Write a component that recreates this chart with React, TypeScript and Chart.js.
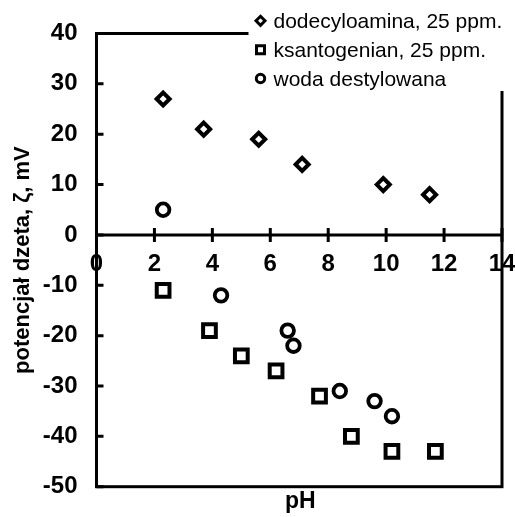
import React, { useEffect, useRef } from 'react';
import { Chart, registerables } from 'chart.js';

Chart.register(...registerables);

// ---- data ----
const seriesNames = ['dodecyloamina, 25 ppm.', 'ksantogenian, 25 ppm.', 'woda destylowana'];
const seriesStyles = ['rectRot', 'rect', 'circle'];

const dodecylPH = [2.3, 3.7, 5.6, 7.1, 9.9, 11.5];
const dodecylZeta = [27, 21, 19, 14, 10, 8];

const ksantPH = [2.3, 3.9, 5.0, 6.2, 7.7, 8.8, 10.2, 11.7];
const ksantZeta = [-11, -19, -24, -27, -32, -40, -43, -43];

const wodaPH = [2.3, 4.3, 6.6, 6.8, 8.4, 9.6, 10.2];
const wodaZeta = [5, -12, -19, -22, -31, -33, -36];

const xMin = 0;
const xMax = 14;
const xStep = 2;
const yMin = -50;
const yMax = 40;
const yStep = 10;

const xTitle = 'pH';
const yTitle = 'potencjał dzeta, ζ, mV';

const FONT = '"Liberation Sans", Arial, Helvetica, sans-serif';

const toPoints = (xs: number[], ys: number[]) => xs.map((x, i) => ({ x, y: ys[i] }));

function drawMarker(ctx: CanvasRenderingContext2D, style: string, cx: number, cy: number, r: number) {
  ctx.beginPath();
  if (style === 'rectRot') {
    ctx.moveTo(cx, cy - r);
    ctx.lineTo(cx + r, cy);
    ctx.lineTo(cx, cy + r);
    ctx.lineTo(cx - r, cy);
    ctx.closePath();
  } else if (style === 'rect') {
    ctx.rect(cx - r, cy - r, 2 * r, 2 * r);
  } else {
    ctx.arc(cx, cy, r, 0, Math.PI * 2);
  }
  ctx.fill();
  ctx.stroke();
}

const framePlugin = {
  id: 'frameAndTicks',
  beforeDatasetsDraw(chart: any) {
    const { ctx, chartArea: a, scales } = chart;
    const x = scales.x;
    const y = scales.y;
    ctx.save();
    ctx.strokeStyle = '#000';
    ctx.lineWidth = 3;
    ctx.lineCap = 'butt';
    ctx.strokeRect(a.left, a.top, a.right - a.left, a.bottom - a.top);
    const y0 = y.getPixelForValue(0);
    ctx.beginPath();
    ctx.moveTo(a.left - 1.5, y0);
    ctx.lineTo(a.right, y0);
    ctx.stroke();
    ctx.beginPath();
    x.ticks.forEach((t: any) => {
      const px = x.getPixelForValue(t.value);
      ctx.moveTo(px, y0 - 7);
      ctx.lineTo(px, y0 + 7);
    });
    y.ticks.forEach((t: any) => {
      const py = y.getPixelForValue(t.value);
      ctx.moveTo(a.left, py);
      ctx.lineTo(a.left + 7, py);
    });
    ctx.stroke();
    ctx.restore();
  },
  afterDraw(chart: any) {
    const { ctx, chartArea: a } = chart;
    ctx.save();
    // legend box
    ctx.fillStyle = '#fff';
    ctx.fillRect(248.5, 0, chart.width - 248.5, 91);
    const rows = [28.3, 57.3, 86];
    chart.data.datasets.forEach((ds: any, i: number) => {
      ctx.fillStyle = '#fff';
      ctx.strokeStyle = '#000';
      ctx.lineWidth = 3;
      const r = ds.pointStyle === 'rectRot' ? 4.5 : ds.pointStyle === 'rect' ? 4 : 4.2;
      drawMarker(ctx, ds.pointStyle, 260.5, rows[i] - 7.5, r);
      ctx.fillStyle = '#000';
      ctx.font = `21px ${FONT}`;
      ctx.textAlign = 'left';
      ctx.textBaseline = 'alphabetic';
      ctx.fillText(ds.label, 273.5, rows[i]);
    });
    // x title
    ctx.fillStyle = '#000';
    ctx.font = `bold 23px ${FONT}`;
    ctx.textAlign = 'center';
    ctx.textBaseline = 'alphabetic';
    ctx.fillText(xTitle, (a.left + a.right) / 2 + 1, 508);
    ctx.restore();
  },
};

export default function App() {
  const canvasRef = useRef<HTMLCanvasElement | null>(null);

  useEffect(() => {
    if (!canvasRef.current) return;
    Chart.defaults.font.family = FONT;
    Chart.defaults.color = '#000';

    const pointCommon = {
      showLine: false,
      borderColor: '#000',
      backgroundColor: '#fff',
      pointBorderColor: '#000',
      pointBackgroundColor: '#fff',
    };

    const tickFont = { size: 24, weight: 'bold' as const, family: FONT, lineHeight: 1.2 };

    const chart = new Chart(canvasRef.current, {
      type: 'scatter',
      data: {
        datasets: [
          {
            ...pointCommon,
            label: seriesNames[0],
            data: toPoints(dodecylPH, dodecylZeta),
            pointStyle: seriesStyles[0] as any,
            pointRadius: 6.5,
            pointBorderWidth: 4,
          },
          {
            ...pointCommon,
            label: seriesNames[1],
            data: toPoints(ksantPH, ksantZeta),
            pointStyle: seriesStyles[1] as any,
            pointRadius: 9,
            pointBorderWidth: 4,
          },
          {
            ...pointCommon,
            label: seriesNames[2],
            data: toPoints(wodaPH, wodaZeta),
            pointStyle: seriesStyles[2] as any,
            pointRadius: 6.3,
            pointBorderWidth: 3.8,
          },
        ],
      },
      options: {
        animation: false,
        responsive: false,
        devicePixelRatio: 1,
        layout: { padding: { left: 0, right: 13, top: 33.5, bottom: 30.3 } },
        plugins: {
          legend: { display: false },
          tooltip: { enabled: false },
        },
        scales: {
          x: {
            type: 'linear',
            position: { y: 0 } as any,
            min: xMin,
            max: xMax,
            grid: { display: false, drawTicks: false },
            border: { display: false },
            ticks: {
              stepSize: xStep,
              autoSkip: false,
              maxRotation: 0,
              padding: 14.6,
              font: tickFont,
              color: '#000',
            },
            afterFit: (scale: any) => {
              scale.height = 0;
              scale.paddingLeft = 0;
              scale.paddingRight = 0;
            },
          },
          y: {
            type: 'linear',
            position: 'left',
            min: yMin,
            max: yMax,
            grid: { display: false, drawTicks: false },
            border: { display: false },
            ticks: {
              stepSize: yStep,
              autoSkip: false,
              padding: 19,
              font: tickFont,
              color: '#000',
            },
            title: {
              display: true,
              text: yTitle,
              color: '#000',
              font: { size: 22, weight: 'bold', family: FONT, lineHeight: 1.2 },
              padding: { top: 9.8, bottom: 0 },
            },
            afterFit: (scale: any) => {
              scale.width = 96.5;
              scale.paddingTop = 0;
              scale.paddingBottom = 0;
            },
          },
        },
      },
      plugins: [framePlugin],
    });

    return () => chart.destroy();
  }, []);

  return (
    <div style={{ position: 'fixed', left: 0, top: 0, width: 515, height: 517, background: '#fff' }}>
      <canvas ref={canvasRef} width={515} height={517} style={{ display: 'block' }} />
    </div>
  );
}
